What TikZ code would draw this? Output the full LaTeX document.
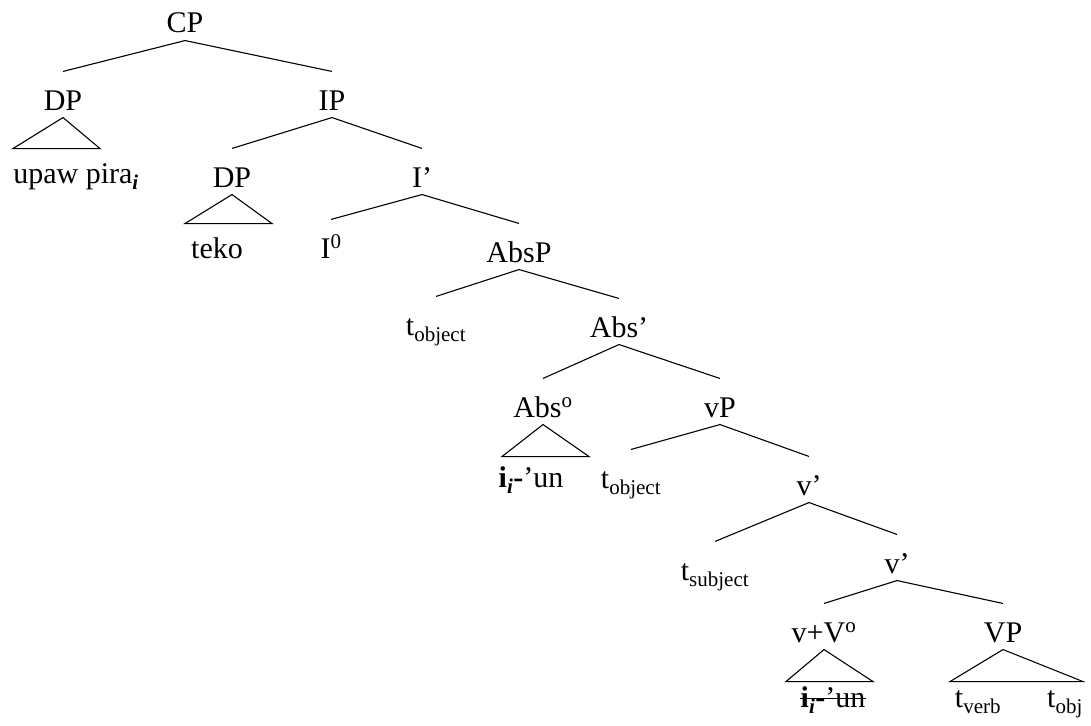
\documentclass[tikz,border=0pt]{standalone}
\usepackage{fontspec}
\setmainfont{Liberation Serif}
\tikzset{
	lbl/.style={inner sep=0pt, inner ysep=7pt, text height=31pt, text depth=0pt, anchor=base},
	leaf/.style={inner sep=0pt, anchor=base},
}
\newcommand{\trc}[1]{t\textsubscript{#1}}
\begin{document}
\begin{tikzpicture}[x=1pt,y=-1pt,line width=1.1pt,font=\fontsize{30}{36}\selectfont]
	\useasboundingbox (0,0) rectangle (1091,725);
	\node[lbl] (cp) at (185,33) {CP};
	\node[lbl] (dpa) at (63,110) {DP};
	\node[lbl] (ip) at (332,110) {IP};
	\node[lbl] (dpb) at (232,187) {DP};
	\node[lbl] (ibar) at (422,187) {I'};
	\node[lbl] (izero) at (331,258) {I\textsuperscript{0}};
	\node[lbl] (absp) at (519,262) {AbsP};
	\node[lbl] (tobja) at (436,335) {\trc{object}};
	\node[lbl] (absbar) at (619,337) {Abs'};
	\node[lbl] (abso) at (543,417) {Abs\textsuperscript{o}};
	\node[lbl] (vp) at (720,417) {vP};
	\node[lbl] (tobjb) at (631,488) {\trc{object}};
	\node[lbl] (vbara) at (809,495) {v'};
	\node[lbl] (tsubj) at (715,580) {\trc{subject}};
	\node[lbl] (vbarb) at (897,573) {v'};
	\node[lbl] (vvo) at (824,642) {v+V\textsuperscript{o}};
	\node[lbl] (vpp) at (1003,642) {VP};
	\node[leaf] (upaw) at (76,183) {upaw pira\textsubscript{\textbf{\textit{i}}}};
	\node[leaf] (teko) at (217,258) {teko};
	\node[leaf] (iun) at (531,487) {\textbf{i\textsubscript{\textit{i}}-}'un};
	\node[leaf] (strk) at (833,707) {\textbf{i\textsubscript{\textit{i}}-}'un};
	\node[leaf] (tverb) at (978,707) {\trc{verb}};
	\node[leaf] (tobjc) at (1065,707) {\trc{obj}};
	\draw (cp.south)--(dpa.north);
	\draw (cp.south)--(ip.north);
	\draw (ip.south)--(dpb.north);
	\draw (ip.south)--(ibar.north);
	\draw (ibar.south)--(izero.north);
	\draw (ibar.south)--(absp.north);
	\draw (absp.south)--(tobja.north);
	\draw (absp.south)--(absbar.north);
	\draw (absbar.south)--(abso.north);
	\draw (absbar.south)--(vp.north);
	\draw (vp.south)--(tobjb.north);
	\draw (vp.south)--(vbara.north);
	\draw (vbara.south)--(tsubj.north);
	\draw (vbara.south)--(vbarb.north);
	\draw (vbarb.south)--(vvo.north);
	\draw (vbarb.south)--(vpp.north);
	\draw (dpa.south)--++(-50,31)--++(87,0)--cycle;
	\draw (dpb.south)--++(-47,29)--++(87,0)--cycle;
	\draw (abso.south)--++(-41,32)--++(87,0)--cycle;
	\draw (vvo.south)--++(-38,32)--++(87,0)--cycle;
	\draw (vpp.south)--++(-53,32)--++(133,0)--cycle;
	\draw[line width=0.9pt] ([yshift=9pt]strk.base west)--([yshift=9pt]strk.base east);
\end{tikzpicture}
\end{document}
